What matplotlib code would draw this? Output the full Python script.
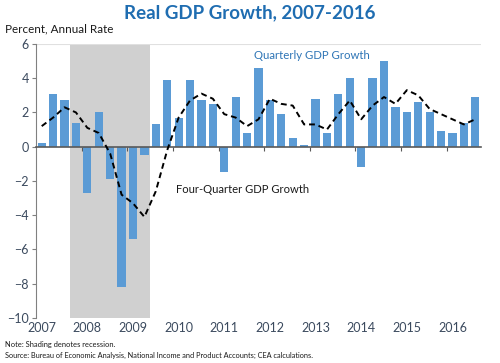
import numpy as np
import matplotlib.pyplot as plt

plt.rcParams['font.family'] = ['Lato', 'DejaVu Sans']

years = ['2007', '2008', '2009', '2010', '2011', '2012', '2013', '2014', '2015', '2016']
# quarterly real GDP growth, annual rate, 2007Q1 - 2016Q3
quarterly = [0.2, 3.1, 2.7, 1.4,
             -2.7, 2.0, -1.9, -8.2,
             -5.4, -0.5, 1.3, 3.9,
             1.7, 3.9, 2.7, 2.5,
             -1.5, 2.9, 0.8, 4.6,
             2.7, 1.9, 0.5, 0.1,
             2.8, 0.8, 3.1, 4.0,
             -1.2, 4.0, 5.0, 2.3,
             2.0, 2.6, 2.0, 0.9,
             0.8, 1.4, 2.9]
# four-quarter growth
four_quarter = [1.2, 1.7, 2.3, 2.0,
                1.1, 0.8, -0.4, -2.8,
                -3.3, -4.1, -2.6, -0.2,
                1.7, 2.7, 3.1, 2.8,
                1.9, 1.7, 1.2, 1.6,
                2.8, 2.5, 2.4, 1.3,
                1.3, 1.0, 1.9, 2.7,
                1.6, 2.4, 2.9, 2.5,
                3.3, 3.0, 2.2, 1.9,
                1.6, 1.3, 1.6]
recession_start = 3   # 2007Q4
recession_end = 9     # 2009Q2

x = np.arange(len(quarterly))
tick_col = '#3b4a5e'

fig = plt.figure(figsize=(5, 3.63), dpi=100)
ax = fig.add_axes([0.072, 0.124, 0.89, 0.755])

ax.axvspan(recession_start - 0.5, recession_end + 0.5, color='#d0d0d0', lw=0, zorder=0)
ax.axhline(6, color='#e0e0e0', lw=0.8, zorder=0)
ax.bar(x, quarterly, width=0.72, color='#5b9bd5', zorder=2)
ax.plot(x, four_quarter, color='black', ls=(0, (3, 2)), lw=1.4, zorder=3)

ax.set_xlim(-0.5, len(quarterly) - 0.5)
ax.set_ylim(-10, 6)
ax.set_yticks(np.arange(-10, 7, 2))
ax.tick_params(axis='y', colors='#808080', labelcolor=tick_col, labelsize=9,
               length=3, direction='out', pad=2)

for s in ['top', 'right']:
    ax.spines[s].set_visible(False)
ax.spines['left'].set_color('#808080')
ax.spines['bottom'].set_position(('data', 0))
ax.spines['bottom'].set_color('#595959')
ax.spines['bottom'].set_linewidth(1.2)

# year boundary ticks on the zero line
ax.set_xticks(np.arange(3.5, len(quarterly), 4))
ax.set_xticklabels([])
ax.tick_params(axis='x', colors='#595959', length=3, direction='out')

sec = ax.secondary_xaxis('bottom')
sec.set_xticks(np.arange(0, len(quarterly), 4))
sec.set_xticklabels(years)
sec.tick_params(length=0, labelcolor=tick_col, labelsize=9, pad=3)
sec.spines['bottom'].set_visible(False)

fig.text(0.5, 0.965, 'Real GDP Growth, 2007-2016', ha='center', va='center',
         fontsize=13.5, fontweight='bold', color='#1f6db1')
fig.text(0.01, 0.92, 'Percent, Annual Rate', ha='left', va='center',
         fontsize=8.4, color='#1a1a1a')
fig.text(0.507, 0.847, 'Quarterly GDP Growth', ha='left', va='center',
         fontsize=8.2, color='#2e75b6')
fig.text(0.353, 0.477, 'Four-Quarter GDP Growth', ha='left', va='center',
         fontsize=8.1, color='#1a1a1a')
fig.text(0.01, 0.052, 'Note: Shading denotes recession.', ha='left', va='center',
         fontsize=5.4, color='#1a1a1a')
fig.text(0.01, 0.022, 'Source: Bureau of Economic Analysis, National Income and Product Accounts; CEA calculations.',
         ha='left', va='center', fontsize=5.3, color='#1a1a1a')

fig.savefig('out.png', dpi=100)
